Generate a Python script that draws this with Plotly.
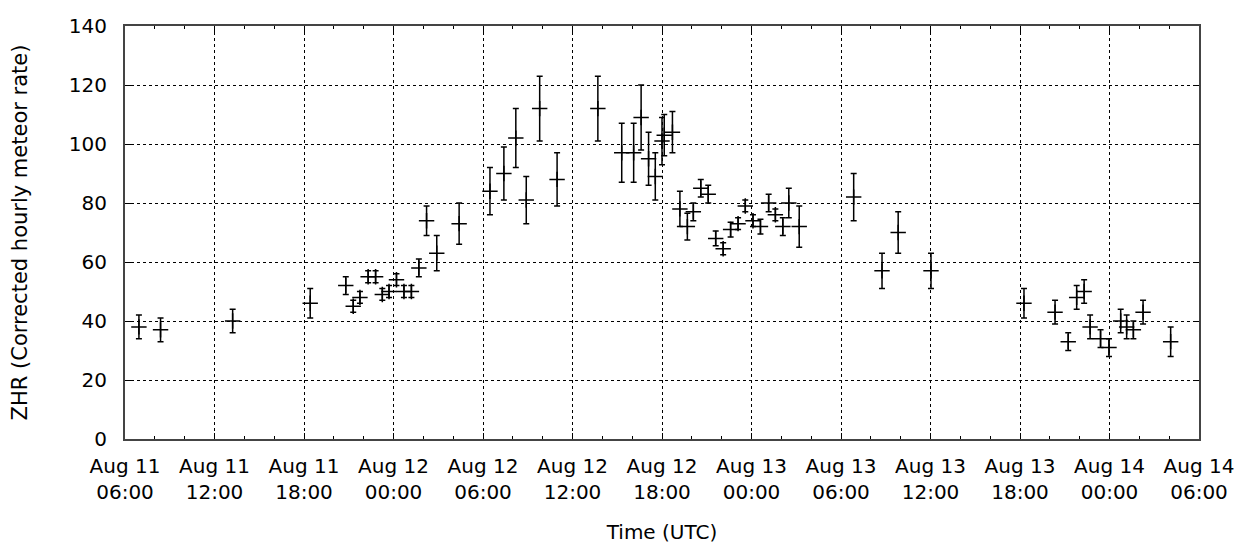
import plotly.graph_objects as go

times = [
    "2016-08-11 06:56", "2016-08-11 08:23", "2016-08-11 13:13", "2016-08-11 18:25",
    "2016-08-11 20:48", "2016-08-11 21:18", "2016-08-11 21:45", "2016-08-11 22:18",
    "2016-08-11 22:48", "2016-08-11 23:15", "2016-08-11 23:42", "2016-08-12 00:12",
    "2016-08-12 00:42", "2016-08-12 01:12", "2016-08-12 01:42", "2016-08-12 02:13",
    "2016-08-12 02:54", "2016-08-12 04:24", "2016-08-12 06:28", "2016-08-12 07:24",
    "2016-08-12 08:12", "2016-08-12 08:54", "2016-08-12 09:48", "2016-08-12 10:58",
    "2016-08-12 13:42", "2016-08-12 15:18", "2016-08-12 16:06", "2016-08-12 16:36",
    "2016-08-12 17:06", "2016-08-12 17:33", "2016-08-12 18:00", "2016-08-12 18:09",
    "2016-08-12 18:42", "2016-08-12 19:12", "2016-08-12 19:42", "2016-08-12 20:06",
    "2016-08-12 20:36", "2016-08-12 21:06", "2016-08-12 21:36", "2016-08-12 22:06",
    "2016-08-12 22:36", "2016-08-12 23:06", "2016-08-12 23:35", "2016-08-13 00:06",
    "2016-08-13 00:36", "2016-08-13 01:09", "2016-08-13 01:36", "2016-08-13 02:06",
    "2016-08-13 02:30", "2016-08-13 03:12", "2016-08-13 06:51", "2016-08-13 08:45",
    "2016-08-13 09:50", "2016-08-13 12:02", "2016-08-13 18:16", "2016-08-13 20:21",
    "2016-08-13 21:14", "2016-08-13 21:48", "2016-08-13 22:18", "2016-08-13 22:42",
    "2016-08-13 23:24", "2016-08-13 23:58", "2016-08-14 00:45", "2016-08-14 01:09",
    "2016-08-14 01:36", "2016-08-14 02:15", "2016-08-14 04:06",
]

zhr = [
    38, 37, 40, 46,
    52, 45, 48, 55,
    55, 49, 50, 54,
    50, 50, 58, 74,
    63, 73, 84, 90,
    102, 81, 112, 88,
    112, 97, 97, 109,
    95, 89, 101, 103,
    104, 78, 72, 77,
    85, 83, 68, 64.5,
    71, 73, 79, 74,
    72, 80, 76, 72,
    80, 72, 82, 57,
    70, 57, 46, 43,
    33, 48, 50, 38,
    34, 31, 40, 38,
    37, 43, 33,
]

zhr_err = [
    4, 4, 4, 5,
    3, 2, 2, 2,
    2, 2, 2, 2,
    2, 2, 3, 5,
    6, 7, 8, 9,
    10, 8, 11, 9,
    11, 10, 10, 11,
    9, 8, 8, 7,
    7, 6, 4.5, 3,
    3, 3, 2.5, 2,
    2.5, 2, 2, 2,
    2.5, 3, 2, 3,
    5, 7, 8, 6,
    7, 6, 5, 4,
    3, 4, 4, 4,
    3, 3, 4, 4,
    3, 4, 5,
]

FONT = "DejaVu Sans"

fig = go.Figure()
fig.add_trace(go.Scatter(
    x=times, y=zhr, mode="markers",
    marker=dict(symbol="cross-thin-open", size=11, color="black",
                line=dict(color="black", width=1.5)),
    error_y=dict(type="data", array=zhr_err, symmetric=True,
                 color="black", thickness=1.5, width=3),
    showlegend=False,
))

# page body has an 8px default margin, so margins are offset accordingly
fig.update_layout(
    width=1244, height=545,
    margin=dict(l=117, r=53, t=18, b=114),
    paper_bgcolor="white", plot_bgcolor="white",
    font=dict(family=FONT, size=20, color="black"),
)

fig.update_xaxes(
    type="date", automargin=False,
    range=["2016-08-11 06:00", "2016-08-14 06:00"],
    tick0="2016-08-11 06:00", dtick=6 * 3600 * 1000,
    tickformat="%b %d<br>%H:%M",
    ticks="inside", ticklen=6, tickcolor="black",
    ticklabelstandoff=8,
    minor=dict(dtick=2 * 3600 * 1000, ticks="inside", ticklen=3, tickcolor="black",
               showgrid=False),
    showgrid=True, gridcolor="black", griddash="dot", gridwidth=1,
    showline=True, linecolor="#444", linewidth=2, mirror="ticks",
    zeroline=False,
    tickfont=dict(family=FONT, size=20, color="black"),
    title=dict(text="Time (UTC)", font=dict(family=FONT, size=20, color="black"),
               standoff=22),
)

fig.update_yaxes(
    automargin=False,
    range=[0, 140], dtick=20,
    ticks="inside", ticklen=6, tickcolor="black",
    ticklabelstandoff=12,
    showgrid=True, gridcolor="black", griddash="dot", gridwidth=1,
    showline=True, linecolor="#444", linewidth=2, mirror="ticks",
    zeroline=False,
    tickfont=dict(family=FONT, size=20, color="black"),
    title=dict(text="ZHR (Corrected hourly meteor rate)",
               font=dict(family=FONT, size=21, color="black"), standoff=38),
)

fig.write_html("out.html")
